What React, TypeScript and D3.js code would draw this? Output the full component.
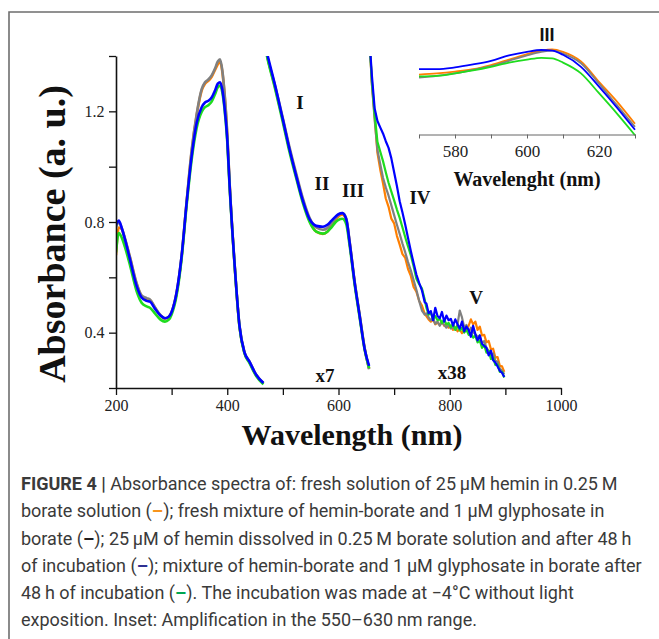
import React, { useEffect, useRef } from "react";
import * as d3 from "d3";

// ---- main plot, segment 1 (UV-vis, x1) ----
const uvWl = [200, 205, 210, 216, 225, 237, 246, 255, 261, 270, 280, 288, 295, 300, 309, 318, 327, 336, 345, 354, 360, 366, 372, 378, 383, 387, 391, 395, 400, 404, 413, 422, 431, 440, 452, 465];
const uvOrange = [0.68, 0.78, 0.775, 0.738, 0.672, 0.576, 0.532, 0.522, 0.518, 0.49, 0.462, 0.451, 0.457, 0.474, 0.544, 0.676, 0.872, 1.055, 1.185, 1.275, 1.3, 1.31, 1.325, 1.35, 1.37, 1.38, 1.345, 1.265, 1.115, 0.948, 0.652, 0.423, 0.327, 0.293, 0.246, 0.216];
const uvGray = [0.78, 0.8, 0.78, 0.742, 0.675, 0.58, 0.535, 0.525, 0.52, 0.492, 0.463, 0.452, 0.458, 0.475, 0.545, 0.678, 0.875, 1.06, 1.19, 1.28, 1.305, 1.315, 1.33, 1.355, 1.38, 1.388, 1.35, 1.27, 1.12, 0.95, 0.655, 0.425, 0.329, 0.295, 0.248, 0.218];
const uvGreen = [0.69, 0.76, 0.745, 0.71, 0.645, 0.55, 0.508, 0.495, 0.49, 0.47, 0.447, 0.44, 0.447, 0.466, 0.535, 0.668, 0.86, 1.025, 1.14, 1.198, 1.215, 1.222, 1.235, 1.262, 1.287, 1.293, 1.27, 1.21, 1.09, 0.935, 0.65, 0.42, 0.325, 0.29, 0.243, 0.213];
const uvBlue = [0.79, 0.805, 0.78, 0.738, 0.666, 0.569, 0.527, 0.515, 0.512, 0.487, 0.462, 0.452, 0.458, 0.475, 0.546, 0.678, 0.87, 1.038, 1.158, 1.215, 1.232, 1.238, 1.25, 1.275, 1.3, 1.305, 1.28, 1.218, 1.1, 0.942, 0.654, 0.425, 0.329, 0.295, 0.248, 0.218];

// ---- segment 2 (visible, x7) ----
const visWl = [468, 473, 485, 500, 512, 524, 536, 548, 560, 572, 580, 587, 595, 600, 607, 614, 620, 629, 638, 647, 655];
const visOrange = [1.44, 1.39, 1.295, 1.168, 1.062, 0.968, 0.878, 0.805, 0.765, 0.757, 0.765, 0.785, 0.808, 0.82, 0.826, 0.806, 0.726, 0.582, 0.462, 0.343, 0.27];
const visGray = [1.44, 1.39, 1.3, 1.175, 1.07, 0.975, 0.885, 0.815, 0.78, 0.772, 0.778, 0.795, 0.815, 0.826, 0.832, 0.812, 0.73, 0.585, 0.465, 0.345, 0.268];
const visGreen = [1.43, 1.385, 1.29, 1.16, 1.052, 0.958, 0.868, 0.8, 0.765, 0.758, 0.765, 0.78, 0.8, 0.808, 0.812, 0.792, 0.715, 0.575, 0.455, 0.338, 0.272];
const visBlue = [1.44, 1.398, 1.302, 1.17, 1.062, 0.966, 0.876, 0.81, 0.786, 0.783, 0.79, 0.804, 0.82, 0.828, 0.832, 0.81, 0.726, 0.582, 0.461, 0.341, 0.28];

// ---- segment 3 (near IR, x38), noisy above ~755 nm ----
const nirWl = [656, 660, 665, 670, 675, 680, 685, 690, 695, 700, 705, 710, 715, 720, 725, 730, 735, 740, 745, 750, 755,
  758, 762, 766, 770, 774, 778, 782, 786, 790, 794, 798, 802, 806, 810, 814, 818, 822, 826, 830, 834, 838, 842, 846, 850, 854, 858, 862, 866, 870, 874, 878, 882, 886, 890, 894, 898];
const nirOrange = [1.45, 1.3, 1.18, 1.05, 0.99, 0.94, 0.885, 0.855, 0.812, 0.795, 0.75, 0.718, 0.684, 0.67, 0.63, 0.605, 0.565, 0.548, 0.515, 0.498, 0.468,
  0.46, 0.448, 0.44, 0.448, 0.43, 0.437, 0.428, 0.44, 0.425, 0.432, 0.418, 0.425, 0.41, 0.42, 0.405, 0.412, 0.398, 0.41, 0.415, 0.425, 0.448, 0.43, 0.44, 0.41, 0.422, 0.39, 0.392, 0.365, 0.37, 0.34, 0.342, 0.31, 0.312, 0.28, 0.278, 0.258];
const nirGray = [1.45, 1.3, 1.17, 1.06, 1.01, 0.96, 0.925, 0.895, 0.86, 0.825, 0.79, 0.757, 0.722, 0.69, 0.655, 0.625, 0.59, 0.555, 0.515, 0.48, 0.465,
  0.47, 0.455, 0.445, 0.452, 0.432, 0.44, 0.425, 0.438, 0.428, 0.418, 0.43, 0.415, 0.42, 0.41, 0.43, 0.48, 0.455, 0.42, 0.428, 0.4, 0.418, 0.402, 0.395, 0.385, 0.39, 0.362, 0.37, 0.345, 0.335, 0.322, 0.325, 0.298, 0.295, 0.27, 0.262, 0.25];
const nirGreen = [1.45, 1.31, 1.19, 1.09, 1.055, 1.02, 0.98, 0.942, 0.91, 0.878, 0.845, 0.815, 0.78, 0.745, 0.712, 0.68, 0.64, 0.595, 0.575, 0.56, 0.52,
  0.49, 0.465, 0.472, 0.448, 0.46, 0.445, 0.45, 0.435, 0.447, 0.43, 0.435, 0.42, 0.432, 0.41, 0.425, 0.408, 0.418, 0.4, 0.41, 0.392, 0.4, 0.382, 0.39, 0.365, 0.372, 0.345, 0.355, 0.328, 0.335, 0.305, 0.31, 0.283, 0.285, 0.258, 0.258, 0.238];
const nirBlue = [1.45, 1.33, 1.21, 1.165, 1.142, 1.12, 1.092, 1.068, 1.03, 0.98, 0.93, 0.875, 0.834, 0.79, 0.742, 0.695, 0.652, 0.61, 0.58, 0.553, 0.51,
  0.505, 0.47, 0.478, 0.445, 0.49, 0.46, 0.452, 0.475, 0.44, 0.462, 0.445, 0.45, 0.425, 0.448, 0.43, 0.415, 0.44, 0.405, 0.422, 0.41, 0.385, 0.425, 0.395, 0.372, 0.39, 0.36, 0.352, 0.345, 0.318, 0.335, 0.3, 0.292, 0.278, 0.262, 0.255, 0.24];

// ---- inset (570-630 nm zoom, arbitrary units) ----
const insetWl = [570, 575, 580, 585, 590, 595, 600, 604, 607, 610, 615, 620, 625, 630];
const insetOrange = [0.799, 0.801, 0.804, 0.808, 0.815, 0.824, 0.833, 0.839, 0.841, 0.837, 0.821, 0.787, 0.754, 0.717];
const insetGray = [0.794, 0.797, 0.801, 0.807, 0.813, 0.822, 0.831, 0.837, 0.839, 0.834, 0.818, 0.784, 0.748, 0.712];
const insetGreen = [0.796, 0.797, 0.801, 0.806, 0.812, 0.819, 0.824, 0.827, 0.826, 0.819, 0.801, 0.768, 0.734, 0.698];
const insetBlue = [0.808, 0.808, 0.811, 0.816, 0.822, 0.831, 0.837, 0.84, 0.839, 0.832, 0.812, 0.779, 0.744, 0.707];

const xTicks = [200, 300, 400, 500, 600, 700, 800, 900, 1000];
const yTicks = [0.2, 0.4, 0.6, 0.8, 1.0, 1.2, 1.4];
const insetTicks = [570, 580, 590, 600, 610, 620, 630];

const series = [
  { name: "fresh hemin", color: "#ff7f00", uv: uvOrange, vis: visOrange, nir: nirOrange, inset: insetOrange },
  { name: "fresh hemin + glyphosate", color: "#808080", uv: uvGray, vis: visGray, nir: nirGray, inset: insetGray },
  { name: "hemin + glyphosate 48 h", color: "#1fdc1f", uv: uvGreen, vis: visGreen, nir: nirGreen, inset: insetGreen },
  { name: "hemin 48 h", color: "#0000ff", uv: uvBlue, vis: visBlue, nir: nirBlue, inset: insetBlue },
];

const serif = "'Liberation Serif', 'Times New Roman', serif";

const App = () => {
  const xAxisRef = useRef<SVGGElement>(null);
  const yAxisRef = useRef<SVGGElement>(null);
  const insetAxisRef = useRef<SVGGElement>(null);

  const x = d3.scaleLinear().domain([200, 1000]).range([116, 561]);
  const y = d3.scaleLinear().domain([0.2, 1.4]).range([388, 56]);
  const xi = d3.scaleLinear().domain([570, 630]).range([419, 635]);
  const yi = d3.scaleLinear().domain([0.7, 0.85]).range([134, 44]);

  const smooth = (wl: number[]) =>
    d3.line<number>().x((_, i) => x(wl[i])).y((d) => y(d)).curve(d3.curveMonotoneX);
  const rough = (wl: number[]) =>
    d3.line<number>().x((_, i) => x(wl[i])).y((d) => y(d));
  const insetLine = d3.line<number>().x((_, i) => xi(insetWl[i])).y((d) => yi(d)).curve(d3.curveMonotoneX);

  useEffect(() => {
    const gx = d3.select(xAxisRef.current!);
    gx.call(
      d3.axisBottom(x).tickValues(xTicks).tickSize(7).tickSizeOuter(0)
        .tickFormat((d) => (+d % 200 === 0 ? String(d) : ""))
    );
    const gy = d3.select(yAxisRef.current!);
    gy.call(
      d3.axisLeft(y).tickValues(yTicks).tickSize(7).tickSizeOuter(0)
        .tickFormat((d) => ([0.4, 0.8, 1.2].some((v) => Math.abs(v - +d) < 1e-6) ? d3.format(".1f")(+d) : ""))
    );
    const gi = d3.select(insetAxisRef.current!);
    gi.call(
      d3.axisBottom(xi).tickValues(insetTicks).tickSize(4).tickSizeOuter(0)
        .tickFormat((d) => (+d % 20 === 0 ? String(d) : ""))
    );
    [gx, gy].forEach((g) => {
      g.select(".domain").attr("stroke", "#111").attr("stroke-width", 1.6);
      g.selectAll(".tick line").attr("stroke", "#111").attr("stroke-width", 1.3);
      g.selectAll(".tick text").attr("font-family", serif).attr("font-size", 16).attr("fill", "#222");
    });
    gx.selectAll(".tick text").attr("dy", "0.8em");
    gy.selectAll(".tick text").attr("dx", "-0.1em");
    gi.select(".domain").attr("stroke", "#666").attr("stroke-width", 1);
    gi.selectAll(".tick line").attr("stroke", "#666");
    gi.selectAll(".tick text").attr("font-family", serif).attr("font-size", 17).attr("fill", "#222").attr("dy", "0.9em");
  }, []);

  const ann = (t: string, px: number, py: number, size = 19) => (
    <text key={t} x={px} y={py} textAnchor="middle" dominantBaseline="central"
      fontFamily={serif} fontWeight="bold" fontSize={size} fill="#111">{t}</text>
  );

  const capFont = "Roboto, 'Noto Sans', sans-serif";
  const capX = 21;
  const dash = (c: string) => <tspan fill={c} fontWeight="bold">–</tspan>;

  return (
    <svg width={659} height={639} style={{ position: "absolute", left: 0, top: 0, background: "#fff" }}>
      <defs>
        <clipPath id="plotClip">
          <rect x={116} y={56} width={445} height={332} />
        </clipPath>
      </defs>
      {/* figure frame */}
      <path d="M9,639 V12 H659" fill="none" stroke="#6e6e6e" strokeWidth={1.6} />

      {/* main spectra */}
      <g clipPath="url(#plotClip)" fill="none" strokeWidth={2.6} strokeLinejoin="round">
        {series.map((s) => (
          <g key={s.name} stroke={s.color}>
            <path d={smooth(uvWl)(s.uv) || ""} />
            <path d={smooth(visWl)(s.vis) || ""} />
            <path d={rough(nirWl)(s.nir) || ""} strokeWidth={2.2} />
          </g>
        ))}
      </g>

      <g ref={xAxisRef} transform="translate(0,388)" />
      <g ref={yAxisRef} transform="translate(116,0)" />

      {ann("I", 300, 102)}
      {ann("II", 322, 183)}
      {ann("III", 353, 190)}
      {ann("IV", 420, 197)}
      {ann("V", 476, 297)}
      {ann("x7", 325, 375)}
      {ann("x38", 452, 372)}

      <text x={352} y={445} textAnchor="middle" fontFamily={serif} fontWeight="bold" fontSize={30} fill="#111">
        Wavelength (nm)
      </text>
      <text transform="translate(65,234) rotate(-90)" textAnchor="middle" fontFamily={serif} fontWeight="bold" fontSize={38} fill="#111">
        Absorbance (a. u.)
      </text>

      {/* inset */}
      <g fill="none" strokeWidth={1.8}>
        {series.map((s) => (
          <path key={s.name} d={insetLine(s.inset) || ""} stroke={s.color} />
        ))}
      </g>
      <g ref={insetAxisRef} transform="translate(0,134.5)" />
      <text x={547} y={35} textAnchor="middle" dominantBaseline="central" fontFamily="'Liberation Sans', Arial, sans-serif"
        fontWeight="bold" fontSize={18} fill="#111">III</text>
      <text x={527} y={186} textAnchor="middle" fontFamily={serif} fontWeight="bold" fontSize={20} fill="#111">
        Wavelenght (nm)
      </text>

      {/* caption */}
      <g fontFamily={capFont} fontSize={18} fill="#3a3a3a">
        <text x={capX} y={490}>
          <tspan fontWeight="bold">FIGURE 4 | </tspan>Absorbance spectra of: fresh solution of 25{"\u2009"}μM hemin in 0.25{"\u2009"}M
        </text>
        <text x={capX} y={517}>
          borate solution ({dash("#f7941d")}); fresh mixture of hemin-borate and 1{"\u2009"}μM glyphosate in
        </text>
        <text x={capX} y={544.5}>
          borate ({dash("#231f20")}); 25{"\u2009"}μM of hemin dissolved in 0.25{"\u2009"}M borate solution and after 48{"\u2009"}h
        </text>
        <text x={capX} y={572}>
          of incubation ({dash("#2e3192")}); mixture of hemin-borate and 1{"\u2009"}μM glyphosate in borate after
        </text>
        <text x={capX} y={599}>
          48{"\u2009"}h of incubation ({dash("#00a651")}). The incubation was made at −4°C without light
        </text>
        <text x={capX} y={626}>
          exposition. Inset: Amplification in the 550–630{"\u2009"}nm range.
        </text>
      </g>
    </svg>
  );
};

export default App;
